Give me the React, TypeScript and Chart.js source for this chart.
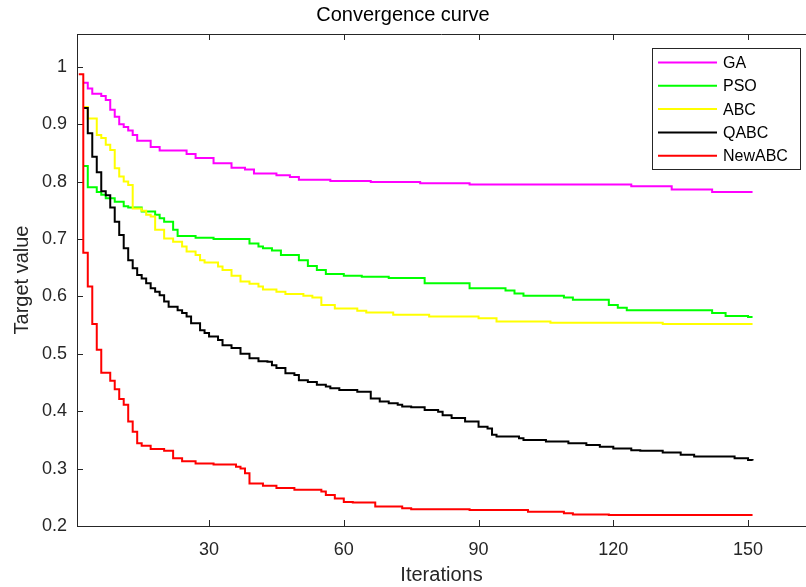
import React, { useEffect, useRef } from 'react';
import { Chart, registerables } from 'chart.js';

Chart.register(...registerables);

const FONT = '"Liberation Sans", Arial, Helvetica, sans-serif';
const AXIS_COLOR = '#262626';

const seriesNames = ['GA', 'PSO', 'ABC', 'QABC', 'NewABC'];
const seriesColors = ['#ff00ff', '#00ff00', '#ffff00', '#000000', '#ff0000'];

const xTickValues = [30, 60, 90, 120, 150];
const yTickValues = [0.2, 0.3, 0.4, 0.5, 0.6, 0.7, 0.8, 0.9, 1];
const yTickLabels = ['0.2', '0.3', '0.4', '0.5', '0.6', '0.7', '0.8', '0.9', '1'];

const xRange = [0.6, 162.9];
const yRange = [0.2, 1.057];

// Best value so far: [iteration where it changes, new value]
const gaSteps: [number, number][] = [
  [2, 0.972], [3, 0.962], [4, 0.953], [6, 0.949], [7, 0.942], [8, 0.925], [9, 0.913],
  [10, 0.9], [11, 0.895], [12, 0.889], [13, 0.881], [14, 0.871], [17, 0.86], [19, 0.854],
  [25, 0.848], [27, 0.841], [31, 0.832], [35, 0.824], [38, 0.821], [40, 0.814], [45, 0.811],
  [48, 0.808], [50, 0.803], [57, 0.801], [66, 0.799], [77, 0.797], [88, 0.795], [124, 0.792],
  [133, 0.786], [142, 0.782], [151, 0.782],
];

const psoSteps: [number, number][] = [
  [2, 0.827], [3, 0.79], [5, 0.782], [6, 0.777], [7, 0.771], [9, 0.765], [11, 0.757],
  [12, 0.755], [15, 0.748], [18, 0.742], [19, 0.736], [20, 0.73], [22, 0.716], [23, 0.705],
  [27, 0.702], [31, 0.7], [39, 0.692], [41, 0.687], [42, 0.684], [44, 0.68], [46, 0.672],
  [50, 0.663], [52, 0.653], [54, 0.646], [56, 0.639], [60, 0.636], [64, 0.634], [70, 0.632],
  [78, 0.623], [88, 0.614], [96, 0.61], [98, 0.605], [100, 0.601], [109, 0.598], [111, 0.594],
  [119, 0.585], [121, 0.58], [123, 0.576], [142, 0.571], [145, 0.566], [150, 0.564], [151, 0.564],
];

const abcSteps: [number, number][] = [
  [2, 0.93], [3, 0.91], [5, 0.881], [6, 0.876], [7, 0.864], [8, 0.855], [9, 0.823],
  [10, 0.809], [11, 0.8], [12, 0.794], [13, 0.753], [15, 0.749], [16, 0.742], [17, 0.739],
  [18, 0.716], [20, 0.701], [22, 0.695], [24, 0.687], [25, 0.678], [27, 0.672], [28, 0.663],
  [29, 0.659], [32, 0.652], [33, 0.646], [35, 0.636], [37, 0.626], [39, 0.622], [41, 0.617],
  [42, 0.612], [45, 0.608], [47, 0.604], [51, 0.601], [53, 0.598], [55, 0.585], [58, 0.579],
  [63, 0.575], [65, 0.572], [71, 0.568], [79, 0.565], [90, 0.562], [94, 0.556], [106, 0.554],
  [131, 0.552], [151, 0.552],
];

const qabcSteps: [number, number][] = [
  [2, 0.928], [3, 0.884], [4, 0.843], [5, 0.816], [6, 0.783], [7, 0.776], [8, 0.755],
  [9, 0.73], [10, 0.707], [11, 0.684], [12, 0.663], [13, 0.649], [14, 0.637], [15, 0.631],
  [16, 0.623], [17, 0.614], [18, 0.608], [19, 0.602], [20, 0.591], [21, 0.582], [23, 0.576],
  [24, 0.571], [25, 0.565], [26, 0.553], [28, 0.541], [29, 0.536], [30, 0.53], [32, 0.524],
  [33, 0.515], [35, 0.51], [37, 0.5], [39, 0.492], [41, 0.487], [43, 0.486], [44, 0.48],
  [45, 0.475], [47, 0.466], [49, 0.463], [50, 0.454], [52, 0.451], [54, 0.446], [56, 0.443],
  [57, 0.44], [59, 0.437], [63, 0.434], [66, 0.422], [68, 0.417], [70, 0.414], [72, 0.411],
  [73, 0.408], [75, 0.407], [78, 0.402], [81, 0.399], [82, 0.393], [84, 0.388], [87, 0.382],
  [90, 0.373], [92, 0.37], [93, 0.359], [94, 0.356], [99, 0.353], [100, 0.35], [105, 0.347],
  [110, 0.344], [114, 0.341], [117, 0.338], [120, 0.335], [124, 0.332], [126, 0.331],
  [131, 0.328], [135, 0.324], [138, 0.321], [147, 0.318], [150, 0.315], [151, 0.314],
];

const newAbcSteps: [number, number][] = [
  [1, 0.987], [2, 0.676], [3, 0.617], [4, 0.552], [5, 0.507], [6, 0.467], [8, 0.453],
  [9, 0.438], [10, 0.421], [11, 0.411], [12, 0.382], [13, 0.364], [14, 0.344], [15, 0.34],
  [17, 0.334], [20, 0.331], [22, 0.318], [24, 0.313], [27, 0.309], [31, 0.307], [36, 0.303],
  [37, 0.3], [38, 0.292], [39, 0.274], [42, 0.27], [45, 0.266], [49, 0.263], [55, 0.26],
  [56, 0.254], [58, 0.248], [60, 0.242], [62, 0.241], [67, 0.234], [73, 0.231], [75, 0.229],
  [88, 0.228], [101, 0.225], [109, 0.222], [111, 0.22], [119, 0.219], [151, 0.219],
];

const seriesSteps = [gaSteps, psoSteps, abcSteps, qabcSteps, newAbcSteps];

// Top edge of the box plus inward-pointing tick marks on the bottom, top and left edges
const axesBoxPlugin = {
  id: 'axesBox',
  beforeDatasetsDraw(chart: any) {
    const { ctx, chartArea: a, scales } = chart;
    ctx.save();
    ctx.strokeStyle = AXIS_COLOR;
    ctx.lineWidth = 1;
    ctx.beginPath();
    ctx.moveTo(a.left, a.top + 0.5);
    ctx.lineTo(a.right, a.top + 0.5);
    const len = 6;
    xTickValues.forEach((v) => {
      const px = Math.round(scales.x.getPixelForValue(v)) + 0.5;
      ctx.moveTo(px, a.bottom);
      ctx.lineTo(px, a.bottom - len);
      ctx.moveTo(px, a.top);
      ctx.lineTo(px, a.top + len);
    });
    yTickValues.forEach((v) => {
      const py = Math.round(scales.y.getPixelForValue(v)) + 0.5;
      ctx.moveTo(a.left, py);
      ctx.lineTo(a.left + len, py);
    });
    ctx.stroke();
    ctx.restore();
  },
};

// Boxed legend in the upper right corner of the plot
const legendBoxPlugin = {
  id: 'legendBox',
  afterDraw(chart: any) {
    const { ctx } = chart;
    const box = { left: 652.5, top: 48.5, width: 148, height: 121 };
    ctx.save();
    ctx.fillStyle = '#ffffff';
    ctx.fillRect(box.left, box.top, box.width, box.height);
    ctx.strokeStyle = AXIS_COLOR;
    ctx.lineWidth = 1;
    ctx.strokeRect(box.left, box.top, box.width, box.height);
    ctx.font = `16px ${FONT}`;
    ctx.textBaseline = 'middle';
    ctx.textAlign = 'left';
    chart.data.datasets.forEach((ds: any, i: number) => {
      const y = 62.5 + i * 23.3;
      ctx.strokeStyle = ds.borderColor;
      ctx.lineWidth = 2;
      ctx.beginPath();
      ctx.moveTo(658, y);
      ctx.lineTo(717, y);
      ctx.stroke();
      ctx.fillStyle = '#000000';
      ctx.fillText(ds.label, 723, y + 1);
    });
    ctx.restore();
  },
};

export default function App() {
  const canvasRef = useRef<HTMLCanvasElement | null>(null);

  useEffect(() => {
    const canvas = canvasRef.current;
    if (!canvas) return;
    Chart.defaults.font.family = FONT;

    const datasets = seriesNames.map((name, i) => ({
      label: name,
      data: seriesSteps[i].map(([x, y]) => ({ x, y })),
      borderColor: seriesColors[i],
      backgroundColor: seriesColors[i],
      borderWidth: 2,
      pointRadius: 0,
      stepped: true,
      fill: false,
      order: seriesNames.length - 1 - i,
    }));

    const chart = new Chart(canvas, {
      type: 'line',
      data: { datasets },
      options: {
        responsive: false,
        animation: false,
        events: [],
        layout: { padding: 0, autoPadding: false },
        plugins: {
          legend: { display: false },
          tooltip: { enabled: false },
          title: {
            display: true,
            text: 'Convergence curve',
            color: '#000000',
            font: { size: 20, weight: 'normal', family: FONT },
            padding: { top: 3, bottom: 7 },
          },
        },
        scales: {
          x: {
            type: 'linear',
            position: 'bottom',
            min: xRange[0],
            max: xRange[1],
            grid: { display: false, drawTicks: false },
            border: { display: true, color: AXIS_COLOR, width: 1 },
            afterBuildTicks: (s: any) => {
              s.ticks = xTickValues.map((v) => ({ value: v }));
            },
            afterFit: (s: any) => {
              s.height = 61;
            },
            ticks: {
              color: AXIS_COLOR,
              font: { size: 18, family: FONT },
              padding: 13,
              maxRotation: 0,
              autoSkip: false,
              callback: (v: any) => String(v),
            },
            title: {
              display: true,
              text: 'Iterations',
              color: AXIS_COLOR,
              font: { size: 20, family: FONT },
              padding: { top: 0, bottom: 0 },
            },
          },
          y: {
            type: 'linear',
            min: yRange[0],
            max: yRange[1],
            grid: { display: false, drawTicks: false },
            border: { display: true, color: AXIS_COLOR, width: 1 },
            afterBuildTicks: (s: any) => {
              s.ticks = yTickValues.map((v) => ({ value: v }));
            },
            afterFit: (s: any) => {
              s.width = 77;
            },
            ticks: {
              color: AXIS_COLOR,
              font: { size: 18, family: FONT },
              padding: 10,
              autoSkip: false,
              callback: (_v: any, idx: number) => yTickLabels[idx],
            },
            title: {
              display: true,
              text: 'Target value',
              color: AXIS_COLOR,
              font: { size: 20, family: FONT },
              padding: { top: 10, bottom: 0 },
            },
          },
        },
      },
      plugins: [axesBoxPlugin, legendBoxPlugin],
    } as any);

    return () => chart.destroy();
  }, []);

  return (
    <div style={{ position: 'fixed', left: 0, top: 0, width: 806, height: 587, background: '#ffffff' }}>
      <canvas ref={canvasRef} width={806} height={587} style={{ display: 'block' }} />
    </div>
  );
}
